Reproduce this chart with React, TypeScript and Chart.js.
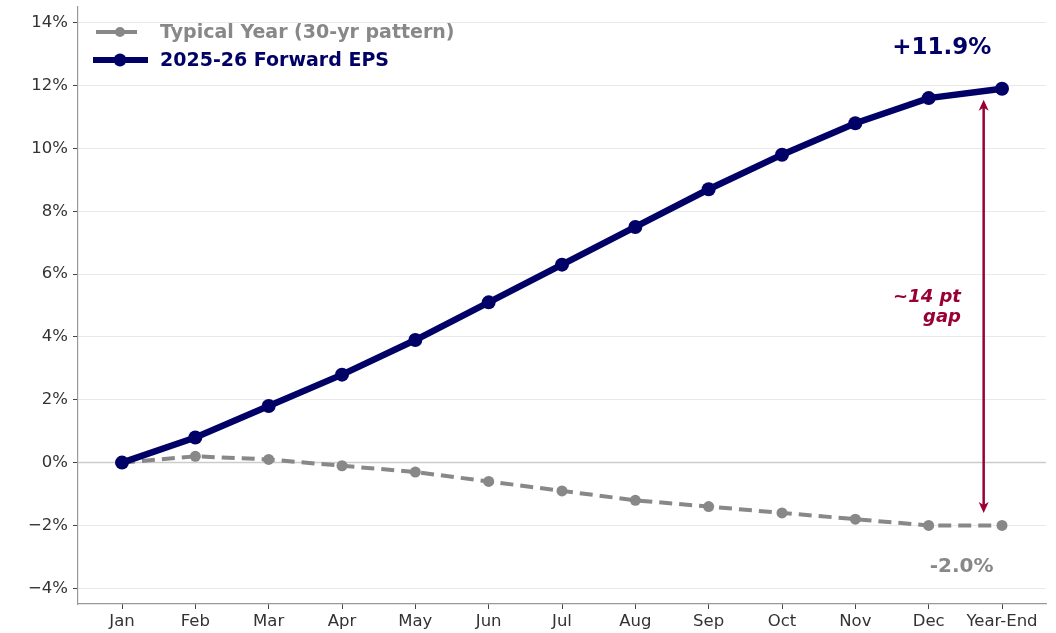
import React, { useEffect, useRef } from "react";
import { Chart, registerables } from "chart.js";

Chart.register(...registerables);

const categories = ["Jan", "Feb", "Mar", "Apr", "May", "Jun", "Jul", "Aug", "Sep", "Oct", "Nov", "Dec", "Year-End"];
const forwardEps = [0, 0.8, 1.8, 2.8, 3.9, 5.1, 6.3, 7.5, 8.7, 9.8, 10.8, 11.6, 11.9];
const typicalYear = [0, 0.2, 0.1, -0.1, -0.3, -0.6, -0.9, -1.2, -1.4, -1.6, -1.8, -2.0, -2.0];
const yTicks = [-4, -2, 0, 2, 4, 6, 8, 10, 12, 14];
const legendLabels = ["Typical Year (30-yr pattern)", "2025-26 Forward EPS"];

const NAVY = "#000066";
const GRAY = "#888888";
const CRIMSON = "#990033";
const FONT = "'DejaVu Sans', sans-serif";

export default function App() {
  const ref = useRef<HTMLCanvasElement>(null);
  useEffect(() => {
    document.body.style.margin = "0";
    const canvas = ref.current!;
    const annot = {
      id: "annot",
      beforeDatasetsDraw(chart: any) {
        const { ctx, chartArea, scales } = chart;
        const y0 = scales.y.getPixelForValue(0);
        ctx.save();
        ctx.strokeStyle = "#cccccc";
        ctx.lineWidth = 1.5;
        ctx.beginPath();
        ctx.moveTo(chartArea.left, y0);
        ctx.lineTo(chartArea.right, y0);
        ctx.stroke();
        ctx.restore();
      },
      afterDraw(chart: any) {
        const { ctx, scales, chartArea } = chart;
        const xs = scales.x, ys = scales.y;
        ctx.save();
        // arrow
        const ax = xs.getPixelForValue(11.75);
        const ay1 = ys.getPixelForValue(11.55);
        const ay2 = ys.getPixelForValue(-1.6);
        ctx.strokeStyle = CRIMSON;
        ctx.fillStyle = CRIMSON;
        ctx.lineWidth = 2.5;
        ctx.beginPath();
        ctx.moveTo(ax, ay1 + 6);
        ctx.lineTo(ax, ay2 - 6);
        ctx.stroke();
        ctx.beginPath();
        ctx.moveTo(ax, ay1);
        ctx.lineTo(ax - 5, ay1 + 11);
        ctx.lineTo(ax, ay1 + 8);
        ctx.lineTo(ax + 5, ay1 + 11);
        ctx.closePath();
        ctx.fill();
        ctx.beginPath();
        ctx.moveTo(ax, ay2);
        ctx.lineTo(ax - 5, ay2 - 11);
        ctx.lineTo(ax, ay2 - 8);
        ctx.lineTo(ax + 5, ay2 - 11);
        ctx.closePath();
        ctx.fill();
        // gap text
        ctx.font = `italic bold 18px ${FONT}`;
        ctx.textAlign = "right";
        ctx.textBaseline = "middle";
        const gx = xs.getPixelForValue(11.44);
        const gy = ys.getPixelForValue(4.94);
        ctx.fillText("~14 pt", gx, gy - 10);
        ctx.fillText("gap", gx, gy + 10);
        // end labels
        ctx.textAlign = "center";
        ctx.font = `bold 23px ${FONT}`;
        ctx.fillStyle = NAVY;
        ctx.fillText("+11.9%", xs.getPixelForValue(11.18), ys.getPixelForValue(13.2));
        ctx.font = `bold 20px ${FONT}`;
        ctx.fillStyle = GRAY;
        ctx.fillText("-2.0%", xs.getPixelForValue(11.45), ys.getPixelForValue(-3.32));
        // legend
        ctx.textAlign = "left";
        ctx.font = `bold 19px ${FONT}`;
        const lx = chartArea.left;
        ctx.strokeStyle = GRAY;
        ctx.lineWidth = 4;
        ctx.beginPath();
        ctx.moveTo(lx + 18, 32);
        ctx.lineTo(lx + 59, 32);
        ctx.stroke();
        ctx.fillStyle = GRAY;
        ctx.beginPath();
        ctx.arc(lx + 42, 32, 5, 0, Math.PI * 2);
        ctx.fill();
        ctx.fillText(legendLabels[0], lx + 82, 33);
        ctx.strokeStyle = NAVY;
        ctx.lineWidth = 6;
        ctx.beginPath();
        ctx.moveTo(lx + 15, 60);
        ctx.lineTo(lx + 70, 60);
        ctx.stroke();
        ctx.fillStyle = NAVY;
        ctx.beginPath();
        ctx.arc(lx + 42, 60, 6.5, 0, Math.PI * 2);
        ctx.fill();
        ctx.fillText(legendLabels[1], lx + 82, 61);
        ctx.restore();
      },
    };

    const chart = new Chart(canvas, {
      type: "line",
      data: {
        datasets: [
          {
            label: legendLabels[0],
            data: typicalYear.map((v, i) => ({ x: i, y: v })),
            borderColor: GRAY,
            backgroundColor: GRAY,
            borderWidth: 4,
            borderDash: [13, 7],
            pointRadius: 5.5,
            pointBorderWidth: 0,
            pointHoverRadius: 5.5,
            tension: 0,
            order: 2,
          },
          {
            label: legendLabels[1],
            data: forwardEps.map((v, i) => ({ x: i, y: v })),
            borderColor: NAVY,
            backgroundColor: NAVY,
            borderWidth: 6.5,
            pointRadius: 7,
            pointBorderWidth: 0,
            pointHoverRadius: 7,
            tension: 0,
            order: 1,
          },
        ],
      },
      options: {
        responsive: false,
        animation: false,
        layout: { autoPadding: false, padding: { top: 7, right: 10, left: 0, bottom: 0 } },
        plugins: { legend: { display: false }, tooltip: { enabled: false } },
        scales: {
          x: {
            type: "linear",
            min: -0.6,
            max: 12.6,
            afterBuildTicks(scale: any) {
              scale.ticks = categories.map((_, i) => ({ value: i }));
            },
            afterFit(scale: any) {
              scale.height = 29;
              scale.paddingLeft = 0;
              scale.paddingRight = 0;
            },
            border: { display: true, color: "#999999", width: 1.2 },
            grid: { drawOnChartArea: false, drawTicks: true, tickLength: 5, tickColor: "#444444", tickWidth: 1 },
            ticks: {
              autoSkip: false,
              maxRotation: 0,
              padding: 3,
              color: "#333333",
              font: { family: FONT, size: 16.5 },
              callback: (v: any) => categories[v] ?? "",
            },
          },
          y: {
            min: -4.5,
            max: 14.5,
            afterBuildTicks(scale: any) {
              scale.ticks = yTicks.map((v) => ({ value: v }));
            },
            afterFit(scale: any) {
              scale.width = 78;
              scale.paddingTop = 0;
              scale.paddingBottom = 0;
            },
            border: { display: true, color: "#999999", width: 1.2 },
            grid: { color: "#e9e9e9", lineWidth: 1, drawTicks: true, tickLength: 5, tickColor: "#444444", tickWidth: 1 },
            ticks: {
              padding: 5,
              color: "#333333",
              font: { family: FONT, size: 16.5 },
              callback: (v: any) => (v < 0 ? "\u2212" + Math.abs(v) : String(v)) + "%",
            },
          },
        },
      },
      plugins: [annot],
    } as any);
    return () => chart.destroy();
  }, []);
  return <canvas ref={ref} width={1056} height={633} style={{ display: "block" }} />;
}
